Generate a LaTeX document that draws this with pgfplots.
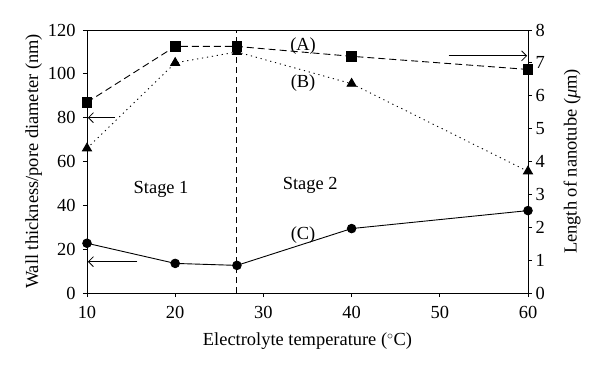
\documentclass[border=0pt]{standalone}
\usepackage{pgfplots}
\pgfplotsset{compat=1.18}
\usepackage{fontspec}
\setmainfont{Liberation Serif}
\usetikzlibrary{arrows.meta}
\newcommand{\fs}{\fontsize{18.5}{21}\selectfont}
\begin{document}
\begin{tikzpicture}[x=1bp,y=1bp]
\pgfplotsset{
  common/.style={
    scale only axis, width=441bp, height=263bp,
    xmin=10, xmax=60,
    tick align=outside, major tick length=4bp,
    tick style={black, line width=0.8pt},
    axis line style={line width=0.9pt},
    /pgf/number format/assume math mode=true,
    tick label style={font=\fs},
    label style={font=\fs},
  }
}
\begin{axis}[common, name=ax,
  ymin=0, ymax=120, ytick={0,20,...,120},
  xtick={10,20,...,60},
  axis y line*=left, axis x line*=bottom,
  xticklabel style={yshift=-6bp},
  yticklabel style={xshift=-4bp},
  xlabel={Electrolyte temperature (${}^{\circ}$C)},
  ylabel={Wall thickness/pore diameter (nm)},
  xlabel style={yshift=-7bp},
  ylabel style={yshift=-1bp},
  clip=false,
]
\draw[line width=0.9pt] (axis cs:10,120) -- (axis cs:60,120);
\draw[line width=0.9pt, dash pattern=on 6bp off 4bp] (axis cs:27,0) -- (axis cs:27,120);
% B: triangles, dotted
\addplot[black, line width=0.9pt, dash pattern=on 1.2bp off 3.8bp, mark=triangle*, mark size=5.2bp, mark options={solid}]
  coordinates {(10,66) (20,105) (27,110) (40,95.5) (60,55.5)};
% C: circles, solid
\addplot[black, line width=0.9pt, mark=*, mark size=4.3bp]
  coordinates {(10,22.7) (20,13.5) (27,12.6) (40,29.4) (60,37.6)};
\node[font=\fs] at (axis cs:34.5,112.8) {(A)};
\node[font=\fs] at (axis cs:34.5,95.9) {(B)};
\node[font=\fs] at (axis cs:34.5,26.5) {(C)};
\node[font=\fs] at (axis cs:18.4,47.5) {Stage 1};
\node[font=\fs] at (axis cs:35.3,49.3) {Stage 2};
\draw[line width=0.8pt, -{Straight Barb[length=5bp,width=10bp]}] (axis cs:13.2,80) -- (axis cs:10.1,80);
\draw[line width=0.8pt, -{Straight Barb[length=5bp,width=10bp]}] (axis cs:15.7,14.3) -- (axis cs:10.1,14.3);
\draw[line width=0.8pt, -{Straight Barb[length=5bp,width=10bp]}] (axis cs:51,108.2) -- (axis cs:59.9,108.2);
\end{axis}
\begin{axis}[common,
  ymin=0, ymax=8, ytick={0,1,...,8},
  axis y line*=right, axis x line=none,
  ylabel={Length of nanotube (\textit{μ}m)},
  ylabel style={yshift=-12bp},
]
% A: squares, dashed
\addplot[black, line width=0.9pt, dash pattern=on 7bp off 4bp, mark=square*, mark size=4.8bp, mark options={solid}]
  coordinates {(10,5.8) (20,7.5) (27,7.5) (40,7.2) (60,6.8)};
\end{axis}
\path (ax.south west) ++(-87bp,-79bp);
\path (ax.north east) ++(72bp,30bp);
\end{tikzpicture}
\end{document}
